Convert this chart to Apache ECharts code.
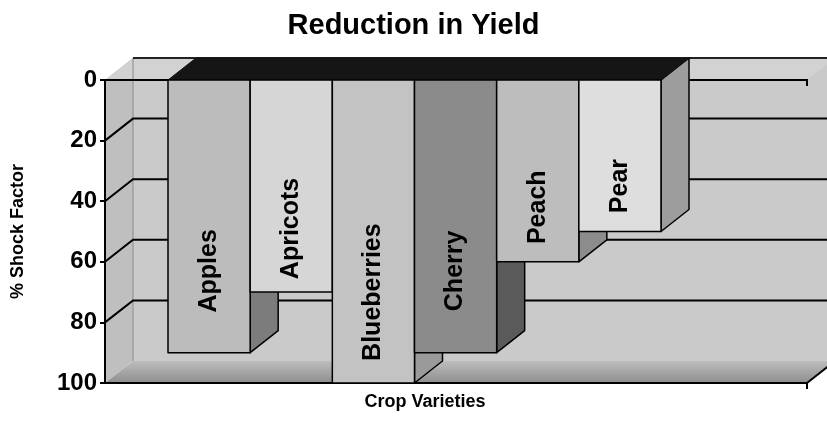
<!DOCTYPE html>
<html><head><meta charset="utf-8">
<script src="https://cdn.jsdelivr.net/npm/echarts@6/dist/echarts.min.js"></script>
<style>html,body{margin:0;padding:0;background:#fff}#c{width:827px;height:436px}</style>
</head><body><div id="c"></div>
<script>
// ---- data ----
const categories = ['Apples', 'Apricots', 'Blueberries', 'Cherry', 'Peach', 'Pear'];
const shockValues = [90, 70, 100, 90, 60, 50];
const yTicks = [0, 20, 40, 60, 80, 100];

// ---- style ----
const FONT = "'Liberation Sans', Arial, sans-serif";
const frontColors = ['#bcbcbc', '#d6d6d6', '#c3c3c3', '#8b8b8b', '#bdbdbd', '#dedede'];
const sideColors = ['#7c7c7c', '#8a8a8a', '#9a9a9a', '#5a5a5a', '#8c8c8c', '#9d9d9d'];
const DX = 28, DY = -22;           // 3D depth offset
const AXIS_OFFSET = 63;            // y axis line left of the bar group
const RIGHT_EXT = 146;             // plot extends right of the bar group

const chart = echarts.init(document.getElementById('c'));

function renderBackground(params, api) {
  const cs = params.coordSys;
  const x0 = cs.x - AXIS_OFFSET;
  const x1 = cs.x + cs.width + RIGHT_EXT;
  const yTop = api.coord([0, yTicks[0]])[1];
  const yBot = api.coord([0, yTicks[yTicks.length - 1]])[1];
  const ch = [];
  ch.push({type: 'polygon', shape: {points: [[x0 + DX, yTop + DY], [x1 + DX, yTop + DY], [x1 + DX, yBot + DY], [x0 + DX, yBot + DY]]},
    style: {fill: '#cacaca'}});
  ch.push({type: 'polygon', shape: {points: [[x0, yTop], [x0 + DX, yTop + DY], [x0 + DX, yBot + DY], [x0, yBot]]},
    style: {fill: '#bfbfbf'}});
  ch.push({type: 'polygon', shape: {points: [[x0, yTop], [x1, yTop], [x1 + DX, yTop + DY], [x0 + DX, yTop + DY]]},
    style: {fill: '#d2d2d2'}});
  ch.push({type: 'polygon', shape: {points: [[x0, yBot], [x1, yBot], [x1 + DX, yBot + DY], [x0 + DX, yBot + DY]]},
    style: {fill: {type: 'linear', x: 0, y: 0, x2: 0, y2: 1, colorStops: [{offset: 0, color: '#bdbdbd'}, {offset: 1, color: '#8e8e8e'}]}}});
  ch.push({type: 'line', shape: {x1: x0 + DX, y1: yTop + DY, x2: x0 + DX, y2: yBot + DY}, style: {stroke: '#8a8a8a', lineWidth: 1}});
  yTicks.forEach(function (t, k) {
    if (k === 0 || k === yTicks.length - 1) return;
    const y = api.coord([0, t])[1];
    ch.push({type: 'polyline', shape: {points: [[x0, y], [x0 + DX, y + DY], [x1 + DX, y + DY]]},
      style: {stroke: '#000', lineWidth: 2, fill: null}});
  });
  ch.push({type: 'line', shape: {x1: x0 + DX, y1: yTop + DY, x2: x1 + DX, y2: yTop + DY}, style: {stroke: '#222', lineWidth: 2}});
  ch.push({type: 'polyline', shape: {points: [[x0, yTop], [x1, yTop], [x1, yTop + 6]]}, style: {stroke: '#000', lineWidth: 2, fill: null}});
  ch.push({type: 'polyline', shape: {points: [[x0, yBot], [x1, yBot], [x1, yBot + 6]]}, style: {stroke: '#000', lineWidth: 2, fill: null}});
  ch.push({type: 'line', shape: {x1: x1, y1: yBot, x2: x1 + DX, y2: yBot + DY}, style: {stroke: '#000', lineWidth: 2}});
  return {type: 'group', children: ch};
}

function renderBar(params, api) {
  const i = api.value(0), v = api.value(1);
  const p0 = api.coord([i, yTicks[0]]);
  const p1 = api.coord([i, v]);
  const w = api.size([1, 0])[0];
  const l = p0[0] - w / 2, r = p0[0] + w / 2, y0 = p0[1], y1 = p1[1];
  const stroke = {stroke: '#000', lineWidth: 1.5, lineJoin: 'round'};
  return {type: 'group', children: [
    {type: 'polygon', shape: {points: [[r, y0], [r + DX, y0 + DY], [r + DX, y1 + DY], [r, y1]]},
      style: Object.assign({fill: sideColors[i]}, stroke)},
    {type: 'polygon', shape: {points: [[l, y0], [r, y0], [r + DX, y0 + DY], [l + DX, y0 + DY]]},
      style: {fill: '#151515', stroke: '#151515', lineWidth: 1}},
    {type: 'rect', shape: {x: l, y: y0, width: w, height: y1 - y0},
      style: Object.assign({fill: frontColors[i]}, stroke)},
    {type: 'text', x: p0[0], y: y0 + (y1 - y0) * 0.7, rotation: Math.PI / 2,
      style: {text: categories[i], font: 'bold 25px ' + FONT, fill: '#000', align: 'center', verticalAlign: 'middle'}}
  ]};
}

chart.setOption({
  animation: false,
  backgroundColor: '#ffffff',
  title: {text: 'Reduction in Yield', left: 'center', top: 11, padding: [0, 0, 0, 0],
    textStyle: {fontFamily: FONT, fontWeight: 'bold', fontSize: 29, color: '#000'}},
  grid: {left: 168, right: 166, top: 80, bottom: 53, containLabel: false},
  xAxis: {type: 'category', data: categories, boundaryGap: true,
    axisLine: {show: false}, axisTick: {show: false}, axisLabel: {show: false}, splitLine: {show: false},
    name: 'Crop Varieties', nameLocation: 'middle', nameGap: 10,
    nameTextStyle: {fontFamily: FONT, fontWeight: 'bold', fontSize: 18, color: '#000', padding: [0, 0, 0, 21]}},
  yAxis: {type: 'value', inverse: true, min: yTicks[0], max: yTicks[yTicks.length - 1], interval: yTicks[1] - yTicks[0],
    offset: AXIS_OFFSET, z: 10,
    axisLine: {show: true, lineStyle: {color: '#000', width: 2}},
    axisTick: {show: true, inside: false, length: 5, lineStyle: {color: '#000', width: 2}},
    axisLabel: {margin: 8, fontFamily: FONT, fontWeight: 'bold', fontSize: 24, color: '#000'},
    splitLine: {show: false},
    name: '% Shock Factor', nameLocation: 'middle', nameGap: 78,
    nameTextStyle: {fontFamily: FONT, fontWeight: 'bold', fontSize: 18, color: '#000'}},
  series: [
    {type: 'custom', z: 1, silent: true, clip: false, renderItem: renderBackground,
      data: [[categories[0], yTicks[0]]]},
    {type: 'custom', z: 2, silent: true, clip: false, renderItem: renderBar,
      data: categories.map(function (c, i) { return [c, shockValues[i]]; })}
  ]
});
</script></body></html>
